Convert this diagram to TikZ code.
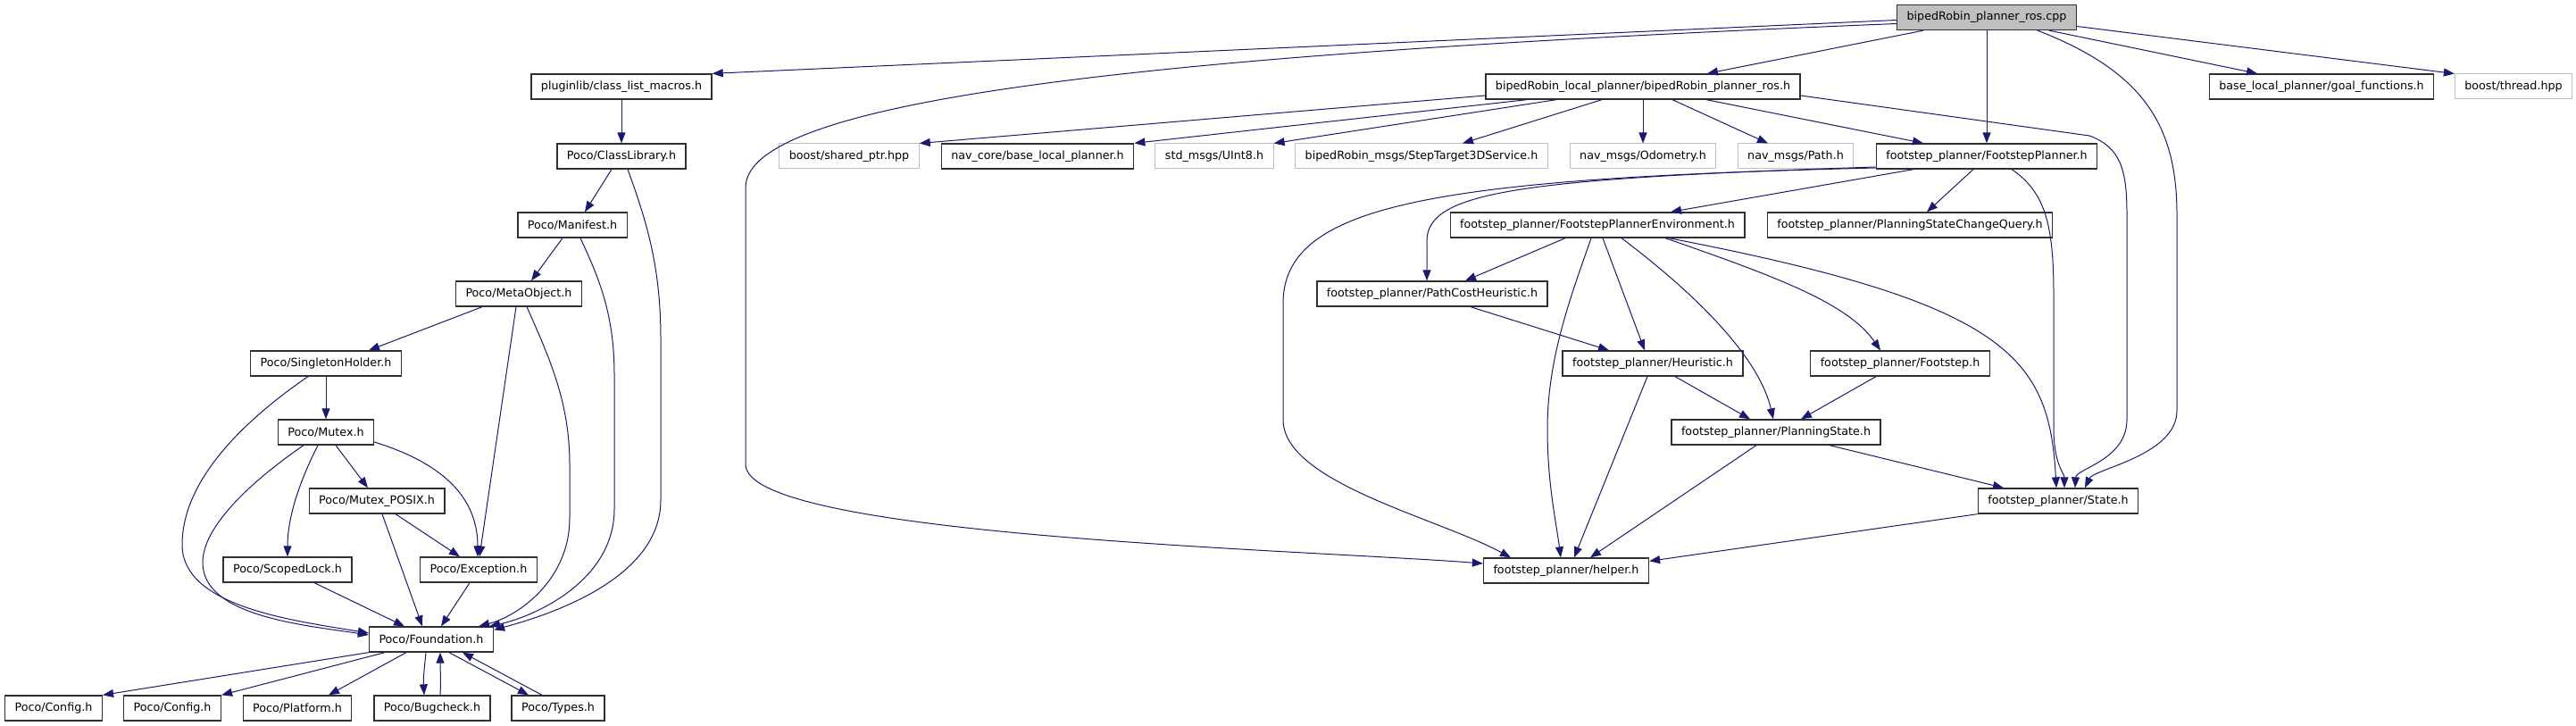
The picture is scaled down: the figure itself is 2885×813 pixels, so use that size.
\documentclass[tikz,border=0pt]{standalone}
\usepackage{fontspec}
\setmainfont{DejaVu Sans}
\usepackage{tikz}
\usetikzlibrary{arrows.meta, positioning}
\usepackage{xcolor}
\definecolor{edgeblue}{HTML}{191970}
\definecolor{boxgray}{HTML}{BFBFBF}
\definecolor{boxline}{HTML}{303030}
\tikzset{%
	every file/.style={
		rectangle,
		draw=boxline,
		fill=white,
		line width=1.3pt,
		minimum height=28pt,
		inner xsep=11pt,
		inner ysep=0pt,
		font=\fontsize{12.7}{15}\selectfont
	},
	file missing/.style={
		every file,
		draw=boxgray,
		line width=1pt
	},
	file root/.style={
		every file,
		fill=boxgray
	},
}

\begin{document}
\begin{tikzpicture}[
				x=1pt, y=-1pt,
				include/.style={draw=edgeblue, line width=1pt, -{Triangle[length=12pt, width=9pt]}}
				]
				\useasboundingbox (0,0) rectangle (2885,813);
				
				% Nodes of the graph
				\node[file root] (cpp) at (2225,19.5) {bipedRobin\_planner\_ros.cpp};
				
				\node[every file] (pluginlib) at (696,97) {pluginlib/class\_list\_macros.h};
				\node[every file] (local) at (1840,97) {bipedRobin\_local\_planner/bipedRobin\_planner\_ros.h};
				\node[every file] (goalfn) at (2600,97) {base\_local\_planner/goal\_functions.h};
				\node[file missing] (thread) at (2815,97) {boost/thread.hpp};
				
				\node[every file] (classlib) at (696,175) {Poco/ClassLibrary.h};
				\node[file missing] (sharedptr) at (951,175) {boost/shared\_ptr.hpp};
				\node[every file] (navcore) at (1162,175) {nav\_core/base\_local\_planner.h};
				\node[file missing] (uint) at (1360,175) {std\_msgs/UInt8.h};
				\node[file missing] (steptarget) at (1592,175) {bipedRobin\_msgs/StepTarget3DService.h};
				\node[file missing] (odom) at (1840,175) {nav\_msgs/Odometry.h};
				\node[file missing] (navpath) at (2011,175) {nav\_msgs/Path.h};
				\node[every file] (fsplanner) at (2225,175) {footstep\_planner/FootstepPlanner.h};
				
				\node[every file] (manifest) at (641,252) {Poco/Manifest.h};
				\node[every file] (fpenv) at (1789,252) {footstep\_planner/FootstepPlannerEnvironment.h};
				\node[every file] (pscq) at (2139,252) {footstep\_planner/PlanningStateChangeQuery.h};
				
				\node[every file] (metaobj) at (581,329) {Poco/MetaObject.h};
				\node[every file] (pathcost) at (1604,329) {footstep\_planner/PathCostHeuristic.h};
				
				\node[every file] (singleton) at (365,407) {Poco/SingletonHolder.h};
				\node[every file] (heuristic) at (1851,407) {footstep\_planner/Heuristic.h};
				\node[every file] (footstep) at (2128,407) {footstep\_planner/Footstep.h};
				
				\node[every file] (mutex) at (365,484) {Poco/Mutex.h};
				\node[every file] (planstate) at (1989,484) {footstep\_planner/PlanningState.h};
				
				\node[every file] (mutexposix) at (422,561) {Poco/Mutex\_POSIX.h};
				\node[every file] (state) at (2305,561) {footstep\_planner/State.h};
				
				\node[every file] (scoped) at (322,638) {Poco/ScopedLock.h};
				\node[every file] (exception) at (536,638) {Poco/Exception.h};
				\node[every file] (helper) at (1754,639) {footstep\_planner/helper.h};
				
				\node[every file] (foundation) at (483,716) {Poco/Foundation.h};
				
				\node[every file] (configA) at (60,793) {Poco/Config.h};
				\node[every file] (configB) at (193,793) {Poco/Config.h};
				\node[every file] (platform) at (333,793) {Poco/Platform.h};
				\node[every file] (bugcheck) at (484,793) {Poco/Bugcheck.h};
				\node[every file] (types) at (625,793) {Poco/Types.h};
				
				% Includes of the cpp file
				\draw[include] ([yshift=-3pt]cpp.west) -- (pluginlib.north east);
				\draw[include] ([yshift=-7pt]cpp.west) .. controls (1300,60) and (835,110) .. (835,210)
					-- (835,520) .. controls (835,600) and (1450,615) .. ([yshift=8pt]helper.west);
				\draw[include] ([xshift=-71pt]cpp.south) -- ([xshift=72pt]local.north);
				\draw[include] (cpp.south) -- (fsplanner.north);
				\draw[include] ([xshift=57pt]cpp.south) .. controls (2400,80) and (2438,140) .. (2438,240)
					-- (2438,460) .. controls (2438,510) and (2345,525) .. ([xshift=30pt]state.north);
				\draw[include] ([xshift=70pt]cpp.south) -- ([xshift=-72pt]goalfn.north);
				\draw[include] ([yshift=-10pt]cpp.east) -- (thread.north west);
				
				% Includes of the ros header
				\draw[include] ([yshift=-10pt]local.west) -- (sharedptr.north east);
				\draw[include] ([xshift=-130pt]local.south) -- (navcore.north east);
				\draw[include] ([xshift=-97pt]local.south) -- (uint.north east);
				\draw[include] ([xshift=-46pt]local.south) -- ([xshift=46pt]steptarget.north);
				\draw[include] (local.south) -- (odom.north);
				\draw[include] ([xshift=33pt]local.south) -- ([xshift=-31pt]navpath.north);
				\draw[include] ([xshift=71pt]local.south) -- ([xshift=-71pt]fsplanner.north);
				\draw[include] ([yshift=-10pt]local.east) -- (2340,152) .. controls (2375,165) and (2382,190) .. (2382,240)
					-- (2382,470) .. controls (2382,515) and (2325,525) .. ([xshift=19pt]state.north);
				
				% footstep planner
				\draw[include] ([xshift=-82pt]fsplanner.south) -- ([xshift=82pt]fpenv.north);
				\draw[include] ([xshift=-15pt]fsplanner.south) -- ([xshift=19pt]pscq.north);
				\draw[include] ([yshift=-12pt]fsplanner.west) .. controls (1700,200) and (1598,215) .. (1598,270)
					-- ([xshift=-6pt]pathcost.north);
				\draw[include] ([yshift=-13pt]fsplanner.west) .. controls (1600,200) and (1437,230) .. (1437,340)
					-- (1437,470) .. controls (1437,540) and (1610,580) .. ([xshift=-62pt]helper.north);
				\draw[include] ([xshift=28pt]fsplanner.south) .. controls (2290,215) and (2300,250) .. (2300,330)
					-- (2300,480) .. controls (2300,520) and (2312,530) .. ([xshift=7pt]state.north);
				
				\draw[include] ([xshift=-36pt]fpenv.south) -- ([xshift=37pt]pathcost.north);
				\draw[include] ([xshift=-7pt]fpenv.south) .. controls (1760,330) and (1733,400) .. (1733,480)
					.. controls (1733,540) and (1742,580) .. ([xshift=-6pt]helper.north);
				\draw[include] ([xshift=6pt]fpenv.south) -- ([xshift=-9pt]heuristic.north);
				\draw[include] ([xshift=27pt]fpenv.south) .. controls (1900,330) and (1970,400) .. ([xshift=-3pt]planstate.north);
				\draw[include] ([xshift=76pt]fpenv.south) .. controls (1990,310) and (2070,340) .. ([xshift=-22pt]footstep.north);
				\draw[include] ([xshift=80pt]fpenv.south) .. controls (2250,340) and (2295,400) .. ([xshift=-2pt]state.north);
				
				\draw[include] ([xshift=43pt]pathcost.south) -- ([xshift=-49pt]heuristic.north);
				\draw[include] ([xshift=25pt]heuristic.south) -- ([xshift=-29pt]planstate.north);
				\draw[include] ([xshift=-6pt]heuristic.south) -- ([xshift=9pt]helper.north);
				\draw[include] ([xshift=-27pt]footstep.south) -- ([xshift=28pt]planstate.north);
				\draw[include] ([xshift=60pt]planstate.south) -- ([xshift=-61pt]state.north);
				\draw[include] ([xshift=-22pt]planstate.south) -- ([xshift=27pt]helper.north);
				\draw[include] (state.south west) -- ([yshift=-4pt]helper.north east);
				
				% Poco headers
				\draw[include] (pluginlib.south) -- (classlib.north);
				\draw[include] ([xshift=-11pt]classlib.south) -- ([xshift=14pt]manifest.north);
				\draw[include] ([xshift=7pt]classlib.south) .. controls (725,250) and (740,300) .. (740,380)
					-- (740,560) .. controls (740,650) and (610,690) .. ([yshift=-4pt]foundation.north east);
				\draw[include] ([xshift=-11pt]manifest.south) -- ([xshift=14pt]metaobj.north);
				\draw[include] ([xshift=9pt]manifest.south) .. controls (670,310) and (688,350) .. (688,420)
					-- (688,570) .. controls (688,650) and (600,690) .. ([xshift=-5pt]foundation.north east);
				\draw[include] ([xshift=-41pt]metaobj.south) -- ([xshift=48pt]singleton.north);
				\draw[include] ([xshift=-3pt]metaobj.south) -- ([xshift=1pt]exception.north);
				\draw[include] ([xshift=9pt]metaobj.south) .. controls (615,400) and (638,450) .. (638,520)
					-- (638,580) .. controls (638,650) and (580,690) .. ([xshift=-17pt]foundation.north east);
				\draw[include] (singleton.south) -- (mutex.north);
				\draw[include] ([xshift=-20pt]singleton.south) .. controls (260,480) and (204,545) .. (204,610)
					.. controls (204,680) and (330,695) .. ([yshift=7pt]foundation.west);
				\draw[include] ([xshift=-25pt]mutex.south) .. controls (280,540) and (227,590) .. (227,630)
					.. controls (227,690) and (340,700) .. ([yshift=5pt]foundation.west);
				\draw[include] ([xshift=-9pt]mutex.south) .. controls (335,540) and (322,580) .. (scoped.north);
				\draw[include] ([xshift=11pt]mutex.south) -- ([xshift=-10pt]mutexposix.north);
				\draw[include] ([yshift=-11pt]mutex.east) .. controls (500,520) and (535,560) .. ([xshift=-1pt]exception.north);
				\draw[include] ([xshift=21pt]mutexposix.south) -- ([xshift=-21pt]exception.north);
				\draw[include] ([xshift=6pt]mutexposix.south) -- ([xshift=-10pt]foundation.north);
				\draw[include] ([xshift=30pt]scoped.south) -- ([xshift=-30pt]foundation.north);
				\draw[include] ([xshift=-10pt]exception.south) -- ([xshift=11pt]foundation.north);
				
				\draw[include] (foundation.south west) -- (configA.north east);
				\draw[include] ([xshift=-52pt]foundation.south) -- (configB.north east);
				\draw[include] ([xshift=-28pt]foundation.south) -- ([xshift=35pt]platform.north);
				\draw[include] ([xshift=-6pt]foundation.south) .. controls (475,750) and (474,760) .. ([xshift=-9pt]bugcheck.north);
				\draw[include] ([xshift=9pt]bugcheck.north) .. controls (494,760) and (493,750) .. ([xshift=10pt]foundation.south);
				\draw[include] ([xshift=20pt]foundation.south) -- ([xshift=-33pt]types.north);
				\draw[include] ([xshift=-18pt]types.north) -- ([xshift=35pt]foundation.south);
				
			\end{tikzpicture}
\end{document}
